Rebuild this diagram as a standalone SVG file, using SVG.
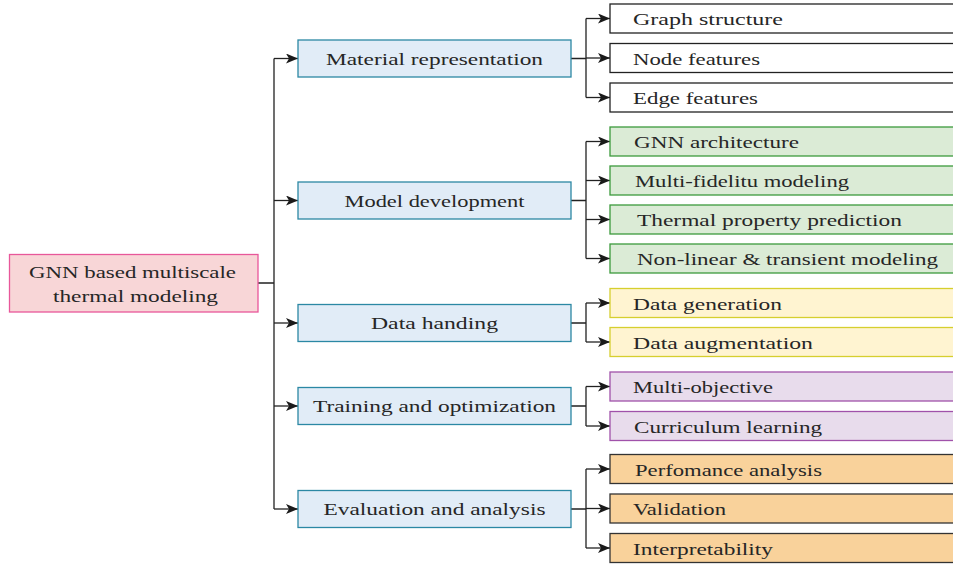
<svg xmlns="http://www.w3.org/2000/svg" width="953" height="564" viewBox="0 0 953 564">
  <defs>
    <marker id="arrow" markerUnits="userSpaceOnUse" markerWidth="14" markerHeight="12" refX="12" refY="5" orient="auto">
      <path d="M0,0 L12,5 L0,10 L3,5 Z" fill="#1a1a1a"/>
    </marker>
    <style>
      text { font-family: "Liberation Serif", "Times New Roman", serif; font-size: 17.5px; fill: #262626; }
      .mid text, .root text { text-anchor: middle; }
      .root rect { fill: #f8d6d7; stroke: #e8579a; stroke-width: 1.3; }
      .mid rect { fill: #e1ecf7; stroke: #2b88a4; stroke-width: 1.3; }
      .plain rect { fill: #ffffff; stroke: #222; stroke-width: 1.3; }
      .green rect { fill: #dbebd6; stroke: #3c9a3c; stroke-width: 1.3; }
      .yellow rect { fill: #fff4d1; stroke: #d6cf2e; stroke-width: 1.3; }
      .purple rect { fill: #e8dcec; stroke: #a052aa; stroke-width: 1.3; }
      .orange rect { fill: #f9d29b; stroke: #333; stroke-width: 1.3; }
      #connectors path { fill: none; stroke: #222; stroke-width: 1.3; }
      #connectors .arr { marker-end: url(#arrow); }
    </style>
  </defs>

  <!-- connectors -->
  <g id="connectors">
    <!-- root to trunk -->
    <path d="M258,283 H274 M274,58.5 V509"/>
    <path class="arr" d="M274,58.5 H298"/>
    <path class="arr" d="M274,200.5 H298"/>
    <path class="arr" d="M274,323 H298"/>
    <path class="arr" d="M274,406 H298"/>
    <path class="arr" d="M274,509 H298"/>

    <!-- material representation branch -->
    <path d="M571,58.5 H586 M586,18.5 V97.5"/>
    <path class="arr" d="M586,18.5 H610"/>
    <path class="arr" d="M586,58 H610"/>
    <path class="arr" d="M586,97.5 H610"/>

    <!-- model development branch -->
    <path d="M571,200.5 H586 M586,141.5 V258.5"/>
    <path class="arr" d="M586,141.5 H610"/>
    <path class="arr" d="M586,180.5 H610"/>
    <path class="arr" d="M586,219.5 H610"/>
    <path class="arr" d="M586,258.5 H610"/>

    <!-- data handing branch -->
    <path d="M571,323 H586 M586,303 V342"/>
    <path class="arr" d="M586,303 H610"/>
    <path class="arr" d="M586,342 H610"/>

    <!-- training branch -->
    <path d="M571,406 H586 M586,386.5 V426"/>
    <path class="arr" d="M586,386.5 H610"/>
    <path class="arr" d="M586,426 H610"/>

    <!-- evaluation branch -->
    <path d="M571,509 H586 M586,469 V548"/>
    <path class="arr" d="M586,469 H610"/>
    <path class="arr" d="M586,508.5 H610"/>
    <path class="arr" d="M586,548 H610"/>
  </g>

  <!-- root -->
  <g id="root" class="root">
    <rect x="9.5" y="254.5" width="248.5" height="57.5"/>
    <text x="132.5" y="278" textLength="207" lengthAdjust="spacingAndGlyphs">GNN based multiscale</text>
    <text x="135.5" y="302" textLength="165" lengthAdjust="spacingAndGlyphs">thermal modeling</text>
  </g>

  <!-- categories -->
  <g id="material" class="mid">
    <rect x="298" y="40" width="273" height="37"/>
    <text x="434.5" y="64.5" textLength="217" lengthAdjust="spacingAndGlyphs">Material representation</text>
  </g>
  <g id="model" class="mid">
    <rect x="298" y="182" width="273" height="37"/>
    <text x="434.5" y="206.5" textLength="180" lengthAdjust="spacingAndGlyphs">Model development</text>
  </g>
  <g id="data" class="mid">
    <rect x="298" y="304.5" width="273" height="37"/>
    <text x="434.5" y="329" textLength="127" lengthAdjust="spacingAndGlyphs">Data handing</text>
  </g>
  <g id="training" class="mid">
    <rect x="298" y="387.5" width="273" height="37"/>
    <text x="434.5" y="412" textLength="243" lengthAdjust="spacingAndGlyphs">Training and optimization</text>
  </g>
  <g id="evaluation" class="mid">
    <rect x="298" y="490.5" width="273" height="37"/>
    <text x="434.5" y="515" textLength="222" lengthAdjust="spacingAndGlyphs">Evaluation and analysis</text>
  </g>

  <!-- material representation leaves -->
  <g id="graph-structure" class="plain">
    <rect x="610" y="4" width="400" height="29"/>
    <text x="633" y="25" textLength="150" lengthAdjust="spacingAndGlyphs">Graph structure</text>
  </g>
  <g id="node-features" class="plain">
    <rect x="610" y="43.5" width="400" height="29"/>
    <text x="633" y="64.5" textLength="127" lengthAdjust="spacingAndGlyphs">Node features</text>
  </g>
  <g id="edge-features" class="plain">
    <rect x="610" y="83" width="400" height="29"/>
    <text x="633" y="104" textLength="125" lengthAdjust="spacingAndGlyphs">Edge features</text>
  </g>

  <!-- model development leaves -->
  <g id="gnn-architecture" class="green">
    <rect x="610" y="127" width="400" height="29"/>
    <text x="634" y="148" textLength="165" lengthAdjust="spacingAndGlyphs">GNN architecture</text>
  </g>
  <g id="multi-fidelity" class="green">
    <rect x="610" y="166" width="400" height="29"/>
    <text x="635" y="187" textLength="214" lengthAdjust="spacingAndGlyphs">Multi-fidelitu modeling</text>
  </g>
  <g id="thermal-property" class="green">
    <rect x="610" y="205" width="400" height="29"/>
    <text x="637" y="226" textLength="265" lengthAdjust="spacingAndGlyphs">Thermal property prediction</text>
  </g>
  <g id="nonlinear-transient" class="green">
    <rect x="610" y="244" width="400" height="29"/>
    <text x="637" y="265" textLength="301" lengthAdjust="spacingAndGlyphs">Non-linear &amp; transient modeling</text>
  </g>

  <!-- data handing leaves -->
  <g id="data-generation" class="yellow">
    <rect x="610" y="288.5" width="400" height="29"/>
    <text x="633" y="309.5" textLength="149" lengthAdjust="spacingAndGlyphs">Data generation</text>
  </g>
  <g id="data-augmentation" class="yellow">
    <rect x="610" y="327.5" width="400" height="29"/>
    <text x="633" y="348.5" textLength="180" lengthAdjust="spacingAndGlyphs">Data augmentation</text>
  </g>

  <!-- training leaves -->
  <g id="multi-objective" class="purple">
    <rect x="610" y="372" width="400" height="29"/>
    <text x="633" y="393" textLength="140" lengthAdjust="spacingAndGlyphs">Multi-objective</text>
  </g>
  <g id="curriculum" class="purple">
    <rect x="610" y="411.5" width="400" height="29"/>
    <text x="634" y="432.5" textLength="188" lengthAdjust="spacingAndGlyphs">Curriculum learning</text>
  </g>

  <!-- evaluation leaves -->
  <g id="performance" class="orange">
    <rect x="610" y="454.5" width="400" height="29"/>
    <text x="635" y="475.5" textLength="187" lengthAdjust="spacingAndGlyphs">Perfomance analysis</text>
  </g>
  <g id="validation" class="orange">
    <rect x="610" y="494" width="400" height="29"/>
    <text x="633" y="515" textLength="93" lengthAdjust="spacingAndGlyphs">Validation</text>
  </g>
  <g id="interpretability" class="orange">
    <rect x="610" y="533.5" width="400" height="29"/>
    <text x="633" y="554.5" textLength="140" lengthAdjust="spacingAndGlyphs">Interpretability</text>
  </g>
</svg>
